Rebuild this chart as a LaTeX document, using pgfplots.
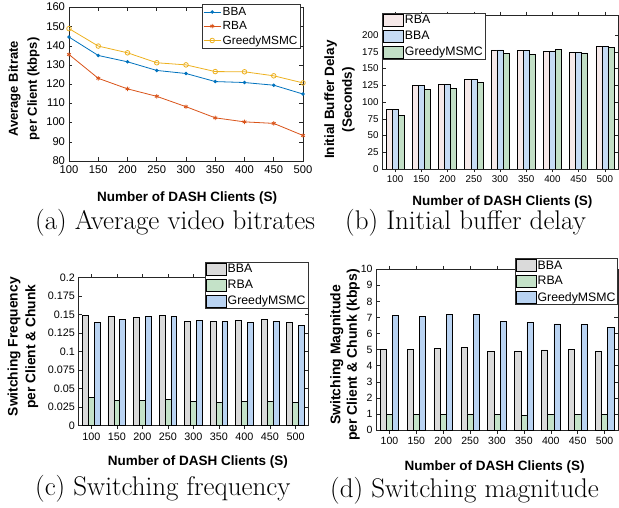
\documentclass[border=0pt]{standalone}
\usepackage{fontspec}
\usepackage{pgfplots}
\pgfplotsset{compat=1.18}
\newfontfamily\arial{Liberation Sans}
\newfontfamily\capfont{Latin Modern Roman}
\definecolor{mblue}{HTML}{0072BD}
\definecolor{morange}{HTML}{D95319}
\definecolor{myellow}{HTML}{EDB120}
\definecolor{bpink}{HTML}{F6E9E9}
\definecolor{bblue}{HTML}{C6DBF4}
\definecolor{bgreen}{HTML}{C2DFC6}
\definecolor{cgray}{HTML}{DADADA}
\definecolor{cgreen}{HTML}{C4E2C8}
\definecolor{cblue}{HTML}{B9D3F2}
\pgfplotsset{
  mat/.style={scale only axis, anchor=south west,
    axis line style={black!85,line width=0.5pt},
    major tick style={black!85,line width=0.5pt},
    major tick length=3.5pt, tick align=inside,
    xtick pos=both, ytick pos=both,
    /pgf/number format/assume math mode=true,
    legend cell align=left},
  barax/.style={ybar, bar width=0.23, xmin=0.5, xmax=9.5, ymin=0,
    xtick={1,...,9}, xticklabels={100,150,200,250,300,350,400,450,500},
    legend image code/.code={\draw[##1] (0pt,-6pt) rectangle (20pt,6pt);}},
  barleg/.style={font=\arial\fontsize{12.3}{12.3}\selectfont, draw=black!80, line width=0.5pt, inner sep=1pt, row sep=3.3pt, nodes={inner sep=1.2pt}},
}
\begin{document}
\begin{tikzpicture}
\useasboundingbox (0,0) rectangle (619pt,507pt);
\clip (0,0) rectangle (619pt,507pt);
% (a)
\begin{axis}[mat, at={(69pt,346pt)}, width=234pt, height=153.5pt,
  xmin=100, xmax=500, ymin=80, ymax=160,
  xtick={100,150,...,500}, ytick={80,90,...,160},
  tick label style={font=\arial\fontsize{11.2}{12}\selectfont},
  xticklabel style={yshift=-1.5pt},
  yticklabel style={xshift=-0.5pt, yshift=0.5pt},
  xlabel={Number of DASH Clients (S)},
  xlabel style={font=\arial\bfseries\fontsize{13.5}{14}\selectfont, at={(axis description cs:0.505,-0.267)}, anchor=base},
  ylabel={Average Bitrate\\per Client (kbps)},
  ylabel style={align=center, font=\arial\bfseries\fontsize{13}{19}\selectfont, at={(axis description cs:-0.192,0.47)}, anchor=center},
  legend style={at={(axis description cs:0.99,1.023)}, anchor=north east, font=\arial\fontsize{11.8}{12}\selectfont, draw=black!80, line width=0.5pt, inner sep=1.5pt, row sep=1.5pt, nodes={inner sep=1.5pt}},
  legend image post style={line width=0.8pt},
]
\addplot[mblue, line width=0.8pt, mark=*, mark size=1.3pt] coordinates {(100,144.6)(150,135.0)(200,131.7)(250,127.2)(300,125.6)(350,121.4)(400,120.9)(450,119.5)(500,114.9)};
\addlegendentry{BBA}
\addplot[morange, line width=0.8pt, mark=asterisk, mark size=2.2pt] coordinates {(100,135.5)(150,123.1)(200,117.6)(250,113.7)(300,108.3)(350,102.5)(400,100.4)(450,99.6)(500,93.3)};
\addlegendentry{RBA}
\addplot[myellow, line width=0.8pt, mark=o, mark size=2.3pt] coordinates {(100,149.0)(150,139.9)(200,136.4)(250,131.2)(300,130.1)(350,126.6)(400,126.5)(450,124.4)(500,120.7)};
\addlegendentry{GreedyMSMC}
\end{axis}
% (b)
\begin{axis}[mat, barax, at={(382pt,338pt)}, width=236pt, height=154pt,
  ymax=230, ytick={0,25,...,200},
  tick label style={font=\arial\fontsize{9.8}{10}\selectfont},
  xlabel={Number of DASH Clients (S)},
  xlabel style={font=\arial\bfseries\fontsize{13.5}{14}\selectfont, at={(axis description cs:0.51,-0.24)}, anchor=base},
  ylabel={Initial Buffer Delay\\(Seconds)},
  ylabel style={align=center, font=\arial\bfseries\fontsize{13.5}{17.6}\selectfont, at={(axis description cs:-0.18,0.45)}, anchor=center},
  legend style={barleg, at={(axis description cs:0,1.013)}, anchor=north west},
]
\addplot[draw=black, fill=bpink, line width=0.5pt, bar shift=-0.23] coordinates {(1,88.6)(2,124.4)(3,125.9)(4,133.3)(5,178)(6,177.1)(7,175.6)(8,174.6)(9,182.6)};
\addlegendentry{RBA}
\addplot[draw=black, fill=bblue, line width=0.5pt, bar shift=0] coordinates {(1,88.6)(2,124.4)(3,125.9)(4,133.3)(5,178)(6,177.1)(7,175.6)(8,174.6)(9,182.6)};
\addlegendentry{BBA}
\addplot[draw=black, fill=bgreen, line width=0.5pt, bar shift=0.23] coordinates {(1,79.6)(2,118.4)(3,119.9)(4,129.9)(5,173)(6,171.6)(7,178.6)(8,173.6)(9,181.1)};
\addlegendentry{GreedyMSMC}
\end{axis}
% (c)
\begin{axis}[mat, barax, at={(78.5pt,81.3pt)}, width=229.8pt, height=148pt,
  ymax=0.2, ytick={0,0.025,...,0.2},
  yticklabel style={/pgf/number format/fixed, /pgf/number format/precision=3},
  tick label style={font=\arial\fontsize{10.8}{11}\selectfont},
  xlabel={Number of DASH Clients (S)},
  xlabel style={font=\arial\bfseries\fontsize{13.5}{14}\selectfont, at={(axis description cs:0.52,-0.266)}, anchor=base},
  ylabel={Switching Frequency\\per Client \& Chunk},
  ylabel style={align=center, font=\arial\bfseries\fontsize{13.8}{17.7}\selectfont, at={(axis description cs:-0.242,0.534)}, anchor=center},
  legend style={barleg, at={(axis description cs:0.999,1.106)}, anchor=north east},
]
\addplot[draw=black, fill=cgray, line width=0.5pt, bar shift=-0.23] coordinates {(1,0.1495)(2,0.1473)(3,0.1464)(4,0.1491)(5,0.141)(6,0.141)(7,0.1423)(8,0.1441)(9,0.1396)};
\addlegendentry{BBA}
\addplot[draw=black, fill=cgreen, line width=0.5pt, bar shift=0] coordinates {(1,0.0378)(2,0.0347)(3,0.0342)(4,0.0351)(5,0.0333)(6,0.032)(7,0.0324)(8,0.0329)(9,0.0311)};
\addlegendentry{RBA}
\addplot[draw=black, fill=cblue, line width=0.5pt, bar shift=0.23] coordinates {(1,0.140)(2,0.1441)(3,0.1482)(4,0.1482)(5,0.1423)(6,0.1405)(7,0.1396)(8,0.141)(9,0.136)};
\addlegendentry{GreedyMSMC}
\end{axis}
% (d)
\begin{axis}[mat, barax, at={(376pt,77pt)}, width=242pt, height=160.7pt,
  ymax=10, ytick={0,1,...,10},
  tick label style={font=\arial\fontsize{10.5}{11}\selectfont},
  xlabel={Number of DASH Clients (S)},
  xlabel style={font=\arial\bfseries\fontsize{13.5}{14}\selectfont, at={(axis description cs:0.49,-0.249)}, anchor=base},
  ylabel={Switching Magnitude\\per Client \& Chunk (kbps)},
  ylabel style={align=center, font=\arial\bfseries\fontsize{14}{16.7}\selectfont, at={(axis description cs:-0.128,0.467)}, anchor=center},
  legend style={barleg, at={(axis description cs:1,1.07)}, anchor=north east},
]
\addplot[draw=black, fill=cgray, line width=0.5pt, bar shift=-0.23] coordinates {(1,5.04)(2,5.02)(3,5.06)(4,5.12)(5,4.88)(6,4.9)(7,4.98)(8,5.02)(9,4.9)};
\addlegendentry{BBA}
\addplot[draw=black, fill=cgreen, line width=0.5pt, bar shift=0] coordinates {(1,0.975)(2,0.975)(3,0.95)(4,1.0)(5,0.975)(6,0.93)(7,0.975)(8,0.975)(9,0.95)};
\addlegendentry{RBA}
\addplot[draw=black, fill=cblue, line width=0.5pt, bar shift=0.23] coordinates {(1,7.14)(2,7.05)(3,7.18)(4,7.2)(5,6.76)(6,6.7)(7,6.6)(8,6.58)(9,6.39)};
\addlegendentry{GreedyMSMC}
\end{axis}
% captions
\node[anchor=base west, inner sep=0, font=\capfont\fontsize{27}{27}\selectfont] at (35pt,277pt) {(a) Average video bitrates};
\node[anchor=base west, inner sep=0, font=\capfont\fontsize{27}{27}\selectfont] at (345pt,277pt) {(b) Initial buffer delay};
\node[anchor=base west, inner sep=0, font=\capfont\fontsize{27}{27}\selectfont] at (35pt,12pt) {(c) Switching frequency};
\node[anchor=base west, inner sep=0, font=\capfont\fontsize{27}{27}\selectfont] at (330pt,10pt) {(d) Switching magnitude};
\end{tikzpicture}
\end{document}
